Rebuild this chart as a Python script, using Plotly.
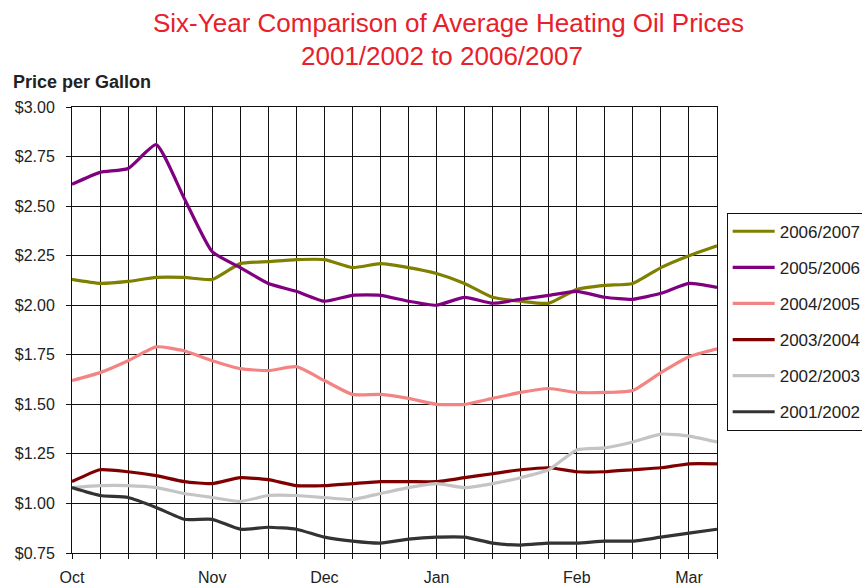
import plotly.graph_objects as go

# weekly average heating oil prices, Oct -> Mar
weeks = list(range(24))
month_labels = ["Oct", "", "", "", "", "Nov", "", "", "", "Dec", "", "", "",
                "Jan", "", "", "", "", "Feb", "", "", "", "Mar", ""]

seasons = ["2006/2007", "2005/2006", "2004/2005", "2003/2004", "2002/2003", "2001/2002"]

p2006 = [2.13, 2.11, 2.12, 2.14, 2.14, 2.13, 2.21, 2.22, 2.23, 2.23, 2.19, 2.21,
         2.19, 2.16, 2.11, 2.04, 2.02, 2.01, 2.08, 2.10, 2.11, 2.19, 2.25, 2.30]
p2005 = [2.61, 2.67, 2.69, 2.81, 2.54, 2.27, 2.19, 2.11, 2.07, 2.02, 2.05, 2.05,
         2.02, 2.00, 2.04, 2.01, 2.03, 2.05, 2.07, 2.04, 2.03, 2.06, 2.11, 2.09]
p2004 = [1.62, 1.66, 1.72, 1.79, 1.77, 1.72, 1.68, 1.67, 1.69, 1.62, 1.55, 1.55,
         1.53, 1.50, 1.50, 1.53, 1.56, 1.58, 1.56, 1.56, 1.57, 1.66, 1.74, 1.78]
p2003 = [1.11, 1.17, 1.16, 1.14, 1.11, 1.10, 1.13, 1.12, 1.09, 1.09, 1.10, 1.11,
         1.11, 1.11, 1.13, 1.15, 1.17, 1.18, 1.16, 1.16, 1.17, 1.18, 1.20, 1.20]
p2002 = [1.08, 1.09, 1.09, 1.08, 1.05, 1.03, 1.01, 1.04, 1.04, 1.03, 1.02, 1.05,
         1.08, 1.10, 1.08, 1.10, 1.13, 1.17, 1.27, 1.28, 1.31, 1.35, 1.34, 1.31]
p2001 = [1.08, 1.04, 1.03, 0.98, 0.92, 0.92, 0.87, 0.88, 0.87, 0.83, 0.81, 0.80,
         0.82, 0.83, 0.83, 0.80, 0.79, 0.80, 0.80, 0.81, 0.81, 0.83, 0.85, 0.87]

prices = [p2006, p2005, p2004, p2003, p2002, p2001]
colors = ["#808000", "#800080", "#F48484", "#800000", "#C4C4C4", "#333333"]

FONT = "Liberation Sans, Arial, sans-serif"

fig = go.Figure()
for name, vals, col in zip(seasons, prices, colors):
    fig.add_trace(go.Scatter(
        x=weeks, y=vals, name=name, legendgroup=name, mode="lines",
        line=dict(color=col, width=3.2, shape="spline", smoothing=0.5),
    ))

fig.update_layout(
    width=862, height=587,
    margin=dict(l=72, r=145, t=107, b=34, autoexpand=False),
    paper_bgcolor="white", plot_bgcolor="white",
    font=dict(family=FONT, size=16, color="#222"),
    showlegend=True,
    legend=dict(
        x=1.015, y=0.763, xanchor="left", yanchor="top",
        bordercolor="#111", borderwidth=1, bgcolor="white",
        font=dict(size=17, color="#222"),
        traceorder="grouped", tracegroupgap=11, itemwidth=42,
    ),
    annotations=[
        dict(text="Six-Year Comparison of Average Heating Oil Prices",
             xref="paper", yref="paper", x=0.584, y=1.189,
             xanchor="center", yanchor="middle", showarrow=False,
             font=dict(size=26, color="#E8202A")),
        dict(text="2001/2002 to 2006/2007",
             xref="paper", yref="paper", x=0.574, y=1.115,
             xanchor="center", yanchor="middle", showarrow=False,
             font=dict(size=26, color="#E8202A")),
        dict(text="<b>Price per Gallon</b>",
             xref="paper", yref="paper", x=-0.095, y=1.055,
             xanchor="left", yanchor="middle", showarrow=False,
             font=dict(size=18, color="#222")),
    ],
)

fig.update_xaxes(
    range=[0, 23], tickmode="array", tickvals=weeks, ticktext=month_labels,
    showgrid=True, gridcolor="#111", gridwidth=1,
    showline=True, linecolor="#111", linewidth=1, mirror=True,
    ticks="outside", ticklen=5, tickcolor="#111",
    ticklabelstandoff=5, zeroline=False,
)
fig.update_yaxes(
    range=[0.75, 3.0], dtick=0.25, tick0=0.75, tickformat="$.2f",
    showgrid=True, gridcolor="#111", gridwidth=1,
    showline=True, linecolor="#111", linewidth=1, mirror=True,
    ticks="outside", ticklen=5, tickcolor="#111",
    ticklabelstandoff=8, zeroline=False,
)

fig.write_html("out.html", config={"displayModeBar": False},
               post_script="document.body.style.margin='0';")
